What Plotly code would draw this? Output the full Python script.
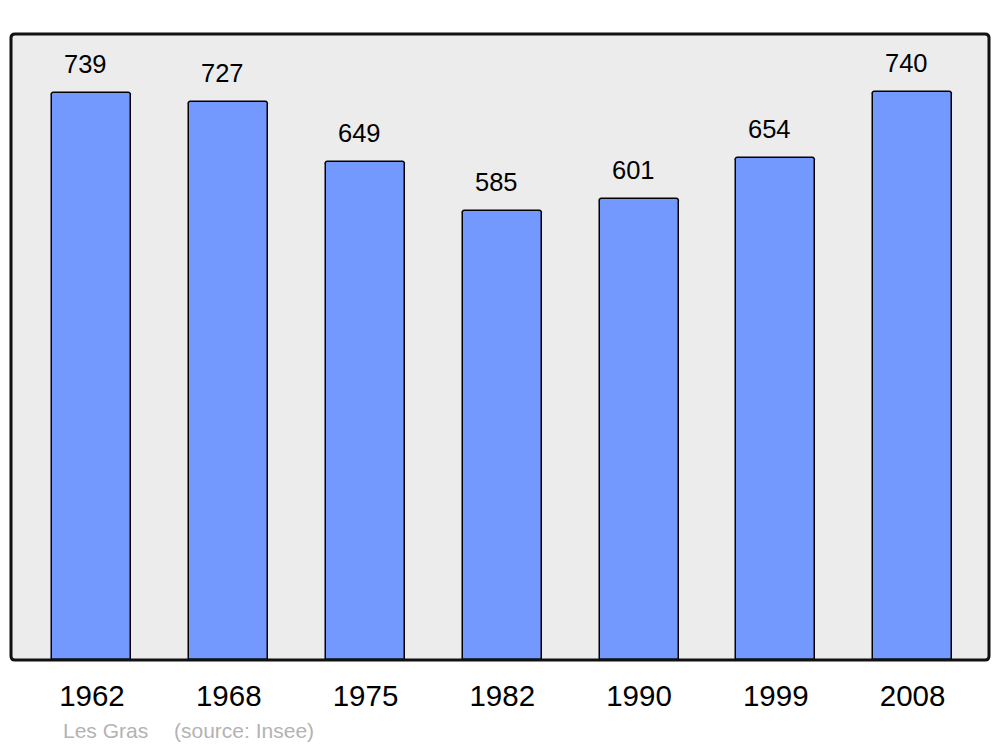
import plotly.graph_objects as go

years = ["1962", "1968", "1975", "1982", "1990", "1999", "2008"]
population = [739, 727, 649, 585, 601, 654, 740]
commune = "Les Gras"
source = "(source: Insee)"

FONT = "Liberation Sans, Arial, sans-serif"

fig = go.Figure()
fig.add_trace(go.Bar(
    x=list(range(len(years))), y=population,
    width=0.578,
    marker=dict(color="#7399ff", line=dict(color="#000000", width=1.5), cornerradius=3),
    hoverinfo="skip",
))

annotations = []
for i, v in enumerate(population):
    annotations.append(dict(
        x=i, y=v, xref="x", yref="y", text=str(v), showarrow=False,
        yanchor="middle", yshift=29, xshift=-6,
        font=dict(family=FONT, size=25.5, color="#000000"),
    ))
annotations.append(dict(
    x=61, y=730, xref="paper", yref="paper", text=commune, showarrow=False,
    font=dict(family=FONT, size=21, color="#b3b3b3"),
))
annotations.append(dict(
    x=172, y=730, xref="paper", yref="paper", text=source, showarrow=False,
    font=dict(family=FONT, size=21, color="#b3b3b3"),
))

fig.update_layout(
    width=1000, height=747,
    margin=dict(l=11, r=11, t=34, b=87),
    paper_bgcolor="#ffffff", plot_bgcolor="#ececec",
    showlegend=False,
    font=dict(family=FONT, color="#000000"),
    xaxis=dict(
        range=[-0.592, 6.559], tickmode="array",
        tickvals=list(range(len(years))), ticktext=years,
        showgrid=False, zeroline=False, showline=False, ticks="",
        tickfont=dict(size=29.5, color="#000000"), ticklabelstandoff=15,
        fixedrange=True,
    ),
    yaxis=dict(range=[0, 815.5], visible=False, fixedrange=True),
    bargap=0,
)

pw, ph = 1000 - 22, 747 - 34 - 87
for a in annotations:
    if a["xref"] == "paper":
        a["x"] = (a["x"] - 11) / pw
        a["y"] = (747 - 87 - a["y"]) / ph
        a["xanchor"] = "left"
        a["yanchor"] = "middle"
fig.update_layout(annotations=annotations)

# rounded frame around the plot area (paper coordinates)
rx, ry = 4 / pw, 4 / ph
path = (f"M {rx},0 L {1-rx},0 Q 1,0 1,{ry} L 1,{1-ry} Q 1,1 {1-rx},1 "
        f"L {rx},1 Q 0,1 0,{1-ry} L 0,{ry} Q 0,0 {rx},0 Z")
fig.add_shape(type="path", xref="paper", yref="paper", path=path,
              line=dict(color="#111111", width=3), fillcolor="rgba(0,0,0,0)", layer="above")

fig.write_html("out.html", config={"displayModeBar": False},
               post_script="document.body.style.margin='0';document.body.style.padding='0';")
